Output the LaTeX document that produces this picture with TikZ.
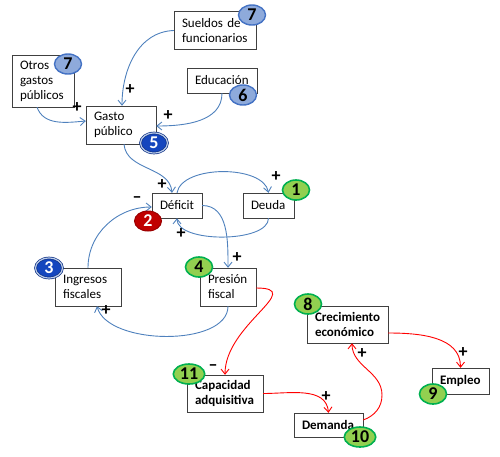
\documentclass[tikz,border=0pt]{standalone}
\usepackage{fontspec}
\setmainfont{Carlito}
\usepackage{xcolor}
\usetikzlibrary{shapes.geometric,arrows.meta}

\definecolor{lineaazul}{HTML}{4F81BD}
\definecolor{linearoja}{HTML}{FF0000}
\definecolor{azulclaro}{HTML}{8EAADB}
\definecolor{azulborde}{HTML}{4472C4}
\definecolor{azulfuerte}{HTML}{1446BE}
\definecolor{rojofuerte}{HTML}{C00000}
\definecolor{verdeclaro}{HTML}{92D050}
\definecolor{verdeborde}{HTML}{00B050}

\tikzset{
  caja/.style={draw=black!75, fill=white, inner xsep=8pt, inner ysep=0pt,
    align=left, font=\fontsize{13}{15}\selectfont},
  cajab/.style={caja, font=\fontsize{13}{15}\selectfont\bfseries},
  insignia/.style={ellipse, inner xsep=2pt, inner ysep=0pt, minimum width=27pt,
    minimum height=20pt, font=\fontsize{18}{18}\selectfont\bfseries},
  bazul/.style={insignia, fill=azulclaro, draw=azulborde, line width=1.4pt},
  boscuro/.style={insignia, fill=azulfuerte, draw=azulfuerte!70!black, double=azulclaro!60,
    double distance=1.2pt, line width=0.7pt, text=white},
  brojo/.style={insignia, fill=rojofuerte, draw=rojofuerte!80!black, line width=1pt, text=white},
  bverde/.style={insignia, fill=verdeclaro, draw=verdeborde, line width=1.6pt},
  flechaazul/.style={draw=lineaazul, line width=0.9pt, -{Straight Barb[length=5pt,width=8pt]}},
  flecharoja/.style={draw=linearoja, line width=0.9pt, -{Straight Barb[length=5pt,width=8pt]}},
  signo/.style={font=\fontsize{18}{18}\selectfont\bfseries, inner sep=0pt}
}

\begin{document}
\begin{tikzpicture}[x=1pt, y=-1pt]
    \useasboundingbox (0,0) rectangle (500,456);

    % 定义各个方框
    \node[caja, text width=66pt, minimum height=38pt] (sueldos) at (215,30.5) {Sueldos de funcionarios};
    \node[caja, text width=46pt, minimum height=52pt] (otros) at (43,81) {Otros gastos públicos};
    \node[caja, text width=54pt, minimum height=25pt] (educ) at (222,80.5) {Educación};
    \node[caja, text width=54pt, minimum height=38pt] (gasto) at (121,125) {Gasto público};
    \node[caja, text width=34pt, minimum height=25pt] (deficit) at (177,205.5) {Déficit};
    \node[caja, text width=35pt, minimum height=25pt] (deuda) at (268.5,205.5) {Deuda};
    \node[caja, text width=50pt, minimum height=38pt] (ingresos) at (88,287) {Ingresos fiscales};
    \node[caja, text width=40pt, minimum height=38pt] (presion) at (228,287) {Presión fiscal};
    \node[cajab, text width=65pt, minimum height=37pt] (crec) at (347.5,324.5) {Crecimiento económico};
    \node[cajab, text width=60pt, minimum height=37pt] (capac) at (225,393.5) {Capacidad adquisitiva};
    \node[cajab, text width=53pt, minimum height=24pt] (demanda) at (328.5,425) {Demanda};
    \node[cajab, text width=41pt, minimum height=26pt] (empleo) at (460.5,381) {Empleo};

    % 蓝色的连线
    \draw[flechaazul] (sueldos.west) to[out=182,in=90] ([xshift=1pt]gasto.north);
    \draw[flechaazul] ([xshift=-6pt]otros.south) to[out=-70,in=185] ([yshift=4pt]gasto.west);
    \draw[flechaazul] (educ.south) to[out=-90,in=0] ([yshift=-1pt]gasto.east);
    \draw[flechaazul] ([xshift=3pt]gasto.south) to[out=-85,in=95] ([xshift=-5pt]deficit.north);
    \draw[flechaazul] (deficit.north) to[out=80,in=100,looseness=0.8] (deuda.north);
    \draw[flechaazul] (deuda.south) to[out=-90,in=-90,looseness=0.7] (deficit.south);
    \draw[flechaazul] (deficit.east) to[out=0,in=90] (presion.north);
    \draw[flechaazul] (ingresos.north) to[out=90,in=180] ([yshift=-1.5pt]deficit.west);
    \draw[flechaazul] (presion.south) to[out=-90,in=-75,looseness=0.8] ([xshift=9pt]ingresos.south);

    % 红色的连线
    \coordinate (giro) at (382,395);
    \draw[flecharoja] ([yshift=-1pt]presion.east) to[out=0,in=90,looseness=1.4] (capac.north);
    \draw[flecharoja] (capac.east) to[out=0,in=95] (demanda.north);
    \draw[flecharoja] ([yshift=5pt]demanda.east) to[out=20,in=-90] (giro)
        to[out=90,in=-90] ([xshift=4.5pt]crec.south);
    \draw[flecharoja] ([yshift=-8.5pt]crec.east) to[out=0,in=90] (empleo.north);

    % 正负号
    \node[signo] (p1) at (130,90) {+};
    \node[signo] (p2) at (77,108) {+};
    \node[signo] (p3) at (168,116) {+};
    \node[signo] (p4) at (162,185) {+};
    \node[signo] (p5) at (276,177) {+};
    \node[signo] (p6) at (181,234) {+};
    \node[signo] (p7) at (237,258) {+};
    \node[signo] (m1) at (137,200) {–};
    \node[signo] (p8) at (106,311) {+};
    \node[signo] (m2) at (213,368) {–};
    \node[signo] (p9) at (326,397) {+};
    \node[signo] (p10) at (362,354) {+};
    \node[signo] (p11) at (463,353) {+};

    % 编号的椭圆
    \node[bazul] (n7a) at (252,15) {7};
    \node[bazul] (n7b) at (68,64) {7};
    \node[bazul] (n6) at (243,95) {6};
    \node[boscuro] (n5) at (154,143) {5};
    \node[brojo] (n2) at (148,221) {2};
    \node[bverde] (n1) at (296,190) {1};
    \node[boscuro] (n3) at (49,268) {3};
    \node[bverde] (n4) at (199,267) {4};
    \node[bverde] (n8) at (308,304) {8};
    \node[bverde] (n11) at (189,374) {11};
    \node[bverde] (n10) at (360,437) {10};
    \node[bverde] (n9) at (433,394) {9};
\end{tikzpicture}
\end{document}
